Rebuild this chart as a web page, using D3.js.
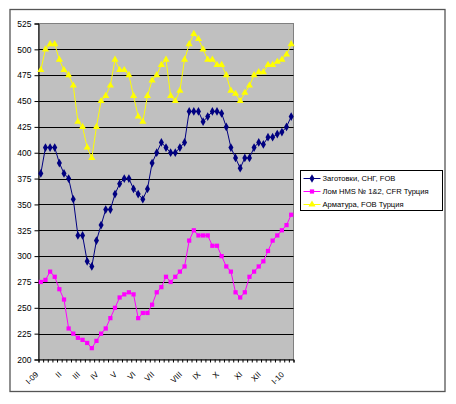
<!DOCTYPE html>
<html>
<head>
<meta charset="utf-8">
<script src="https://cdn.jsdelivr.net/npm/d3@7/dist/d3.min.js"></script>
<style>
  body { margin: 0; background: #fff; }
  text { font-family: "Liberation Sans", Arial, sans-serif; }
</style>
</head>
<body>
<script>
// weekly quotes, $/t, I-2009 .. I-2010
var weekLabels = ["I-09", "", "", "", "", "II", "", "", "", "III", "", "", "", "IV", "", "", "",
  "V", "", "", "", "VI", "", "", "", "VII", "", "", "", "", "", "VIII", "", "", "",
  "IX", "", "", "", "X", "", "", "", "", "XI", "", "", "", "XII", "", "", "", "", "I-10", ""];

var billets = [380, 405, 405, 405, 390, 380, 375, 355, 320, 320, 295, 290, 315, 330, 345, 345,
  360, 370, 375, 375, 365, 360, 355, 365, 390, 400, 410, 405, 400, 400, 405, 410,
  440, 440, 440, 430, 435, 440, 440, 438, 425, 405, 395, 385, 395, 395, 405, 410,
  408, 415, 415, 418, 420, 425, 435];

var scrap = [275, 277, 285, 280, 268, 258, 230, 225, 221, 219, 216, 211, 218, 225, 230, 240,
  250, 260, 263, 265, 263, 240, 245, 245, 253, 265, 270, 280, 275, 280, 285, 290,
  315, 325, 320, 320, 320, 310, 310, 300, 290, 285, 265, 260, 265, 280, 285, 290,
  295, 305, 315, 320, 325, 330, 340];

var rebar = [480, 500, 505, 505, 490, 480, 475, 465, 430, 425, 405, 395, 425, 450, 455, 465,
  490, 480, 480, 475, 455, 435, 430, 455, 470, 475, 485, 490, 455, 450, 460, 490,
  505, 515, 510, 500, 490, 490, 485, 485, 475, 460, 457, 450, 458, 465, 475, 478,
  478, 485, 485, 488, 490, 495, 505];

var seriesNames = ["Заготовки, СНГ, FOB", "Лом HMS № 1&2, CFR Турция", "Арматура, FOB Турция"];
var seriesColors = ["#000080", "#ff00ff", "#ffff00"];
var seriesSymbols = [d3.symbolDiamond, d3.symbolSquare, d3.symbolTriangle];
var yTicks = [200, 225, 250, 275, 300, 325, 350, 375, 400, 425, 450, 475, 500, 525];

var W = 456, H = 404;
var plot = {left: 38.5, right: 293.5, top: 23.5, bottom: 359.5};

var svg = d3.select("body").append("svg")
  .attr("width", W)
  .attr("height", H);

// outer chart frame
svg.append("rect")
  .attr("x", 10).attr("y", 9.5)
  .attr("width", 435).attr("height", 382)
  .attr("fill", "#fff")
  .attr("stroke", "#555")
  .attr("stroke-width", 1.3);

var x = d3.scaleBand()
  .domain(d3.range(weekLabels.length))
  .range([plot.left, plot.right]);
var xEdge = d3.scaleLinear()
  .domain([0, weekLabels.length])
  .range([plot.left, plot.right]);
var y = d3.scaleLinear()
  .domain([200, 525])
  .range([plot.bottom, plot.top]);

function cx(i) { return x(i) + x.bandwidth() / 2; }

// plot area
svg.append("rect")
  .attr("x", plot.left).attr("y", plot.top)
  .attr("width", plot.right - plot.left).attr("height", plot.bottom - plot.top)
  .attr("fill", "#c0c0c0")
  .attr("stroke", "#808080");

// gridlines
svg.append("g")
  .selectAll("line")
  .data(yTicks.filter(function(d){ return d > 200 && d < 525; }))
  .join("line")
  .attr("x1", plot.left).attr("x2", plot.right)
  .attr("y1", function(d){ return Math.round(y(d)) + 0.5; })
  .attr("y2", function(d){ return Math.round(y(d)) + 0.5; })
  .attr("stroke", "#000")
  .attr("stroke-width", 1);

// y axis
var yAxisG = svg.append("g")
  .attr("transform", "translate(" + plot.left + ",0)")
  .call(d3.axisLeft(y).tickValues(yTicks).tickSize(4).tickPadding(3));
yAxisG.select(".domain").attr("stroke", "#000");
yAxisG.selectAll(".tick line").attr("stroke", "#000");
yAxisG.selectAll(".tick text")
  .attr("font-size", "8.5px")
  .attr("fill", "#000")
  .style("font-family", "'Liberation Sans', Arial, sans-serif");

// x axis (ticks between categories)
var xAxisG = svg.append("g")
  .attr("transform", "translate(0," + plot.bottom + ")")
  .call(d3.axisBottom(xEdge).tickValues(d3.range(weekLabels.length + 1)).tickSize(3).tickFormat(""));
xAxisG.select(".domain").attr("stroke", "#000");
xAxisG.selectAll(".tick line").attr("stroke", "#000");

svg.append("g")
  .selectAll("text")
  .data(weekLabels.map(function(l, i){ return {l: l, i: i}; }).filter(function(d){ return d.l; }))
  .join("text")
  .attr("transform", function(d){ return "translate(" + (cx(d.i) - 2) + "," + (plot.bottom + 15.5) + ") rotate(-45)"; })
  .attr("text-anchor", "end")
  .attr("font-size", "8px")
  .attr("fill", "#000")
  .text(function(d){ return d.l; });

// series
var allSeries = [billets, scrap, rebar];
var line = d3.line()
  .x(function(d, i){ return cx(i); })
  .y(function(d){ return y(d); });

allSeries.forEach(function(vals, k) {
  var g = svg.append("g");
  g.append("path")
    .datum(vals)
    .attr("d", line)
    .attr("fill", "none")
    .attr("stroke", seriesColors[k])
    .attr("stroke-width", 1);
  g.selectAll("path.m")
    .data(vals)
    .join("path")
    .attr("class", "m")
    .attr("transform", function(d, i){ return "translate(" + cx(i) + "," + y(d) + ")"; })
    .attr("d", d3.symbol().type(seriesSymbols[k]).size(k === 1 ? 18 : 22))
    .attr("fill", seriesColors[k]);
});

// legend
var leg = svg.append("g").attr("transform", "translate(300.5,170.5)");
leg.append("rect")
  .attr("width", 142).attr("height", 40)
  .attr("fill", "#fff")
  .attr("stroke", "#000");
var items = leg.selectAll("g.item")
  .data(seriesNames)
  .join("g")
  .attr("class", "item")
  .attr("transform", function(d, i){ return "translate(0," + (8 + i * 13) + ")"; });
items.append("line")
  .attr("x1", 3).attr("x2", 20)
  .attr("stroke", function(d, i){ return seriesColors[i]; });
items.append("path")
  .attr("transform", "translate(11.5,0)")
  .attr("d", function(d, i){ return d3.symbol().type(seriesSymbols[i]).size(i === 1 ? 18 : 22)(); })
  .attr("fill", function(d, i){ return seriesColors[i]; });
items.append("text")
  .attr("x", 22)
  .attr("dy", "0.35em")
  .attr("font-size", "7.6px")
  .attr("fill", "#000")
  .text(function(d){ return d; });
</script>
</body>
</html>
